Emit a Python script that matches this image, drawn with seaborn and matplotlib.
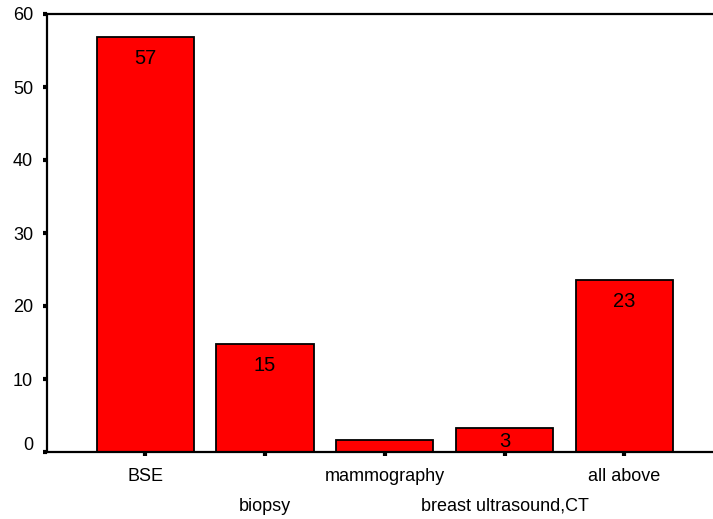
import numpy as np
import pandas as pd
import matplotlib
matplotlib.use("Agg")
import matplotlib.pyplot as plt
import matplotlib.transforms as mtransforms
import seaborn as sns

# data (percent)
categories = ["BSE", "biopsy", "mammography", "breast ultrasound,CT", "all above"]
values = [56.8, 14.8, 1.6, 3.3, 23.5]
bar_labels = ["57", "15", "", "3", "23"]

df = pd.DataFrame({"method": categories, "pct": values})

sns.set_style("white")
plt.rcParams["font.family"] = ["Liberation Sans", "DejaVu Sans"]

fig = plt.figure(figsize=(7.13, 5.19), dpi=100)
ax = fig.add_axes([47 / 713, 67 / 519, 1 - 47 / 713, (452 - 14) / 519])

sns.barplot(data=df, x="method", y="pct", color="#ff0000", saturation=1,
            edgecolor="black", linewidth=1.3, width=0.81, ax=ax)

ax.set_xlim(-0.82, 4.74)
ax.set_ylim(0, 60)
ax.set_yticks(range(0, 61, 10))
ax.set_xlabel("")
ax.set_ylabel("")

# value labels inside the bars
for i, (v, lab) in enumerate(zip(values, bar_labels)):
    if lab:
        ax.text(i, max(v - 2.9, 1.4), lab, ha="center", va="center", fontsize=14.5, color="black")

ax.set_xticks(range(len(categories)))
ax.set_xticklabels(categories)

ax.tick_params(axis="both", which="both", direction="out", length=3, width=3,
               color="black", labelsize=13, labelcolor="black",
               left=True, bottom=True)
ax.tick_params(axis="y", pad=7)
ax.tick_params(axis="x", pad=8.5)

for side in ["left", "bottom", "top"]:
    ax.spines[side].set_visible(True)
    ax.spines[side].set_color("black")
    ax.spines[side].set_linewidth(1.6)
ax.spines["right"].set_visible(False)

# staggered category labels: every second one drops to a lower row
for i, lab in enumerate(ax.get_xticklabels()):
    if i % 2 == 1:
        lab.set_transform(lab.get_transform() + mtransforms.ScaledTranslation(0, -30 / 100, fig.dpi_scale_trans))

# lift the "0" label a bit like the original
lab0 = ax.get_yticklabels()[0]
lab0.set_transform(lab0.get_transform() + mtransforms.ScaledTranslation(0, 8 / 100, fig.dpi_scale_trans))

plt.savefig("out.png", dpi=100)
